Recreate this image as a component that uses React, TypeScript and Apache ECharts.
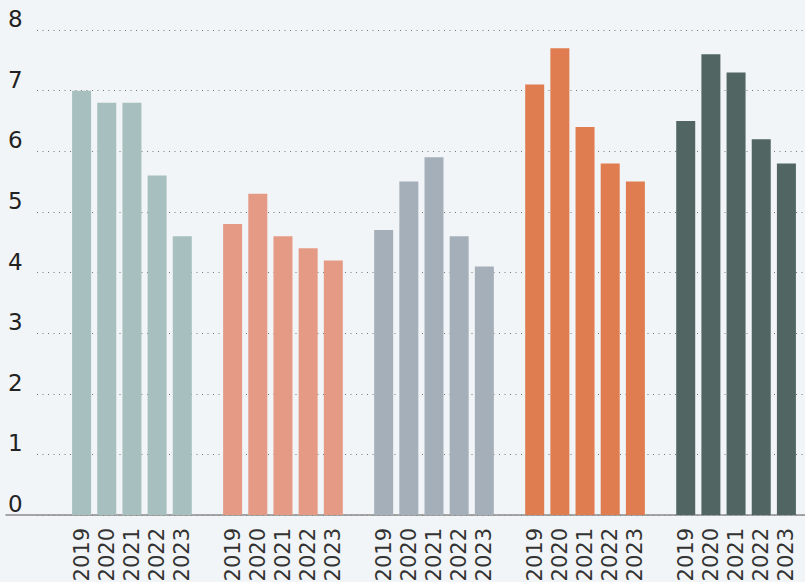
import React, { useEffect, useRef } from "react";
import * as echarts from "echarts";

const years = ["2019", "2020", "2021", "2022", "2023"];
const groupColors = ["#a7bfbf", "#e49a85", "#a5afb9", "#e07d50", "#516562"];
const group1 = [7.0, 6.8, 6.8, 5.6, 4.6];
const group2 = [4.8, 5.3, 4.6, 4.4, 4.2];
const group3 = [4.7, 5.5, 5.9, 4.6, 4.1];
const group4 = [7.1, 7.7, 6.4, 5.8, 5.5];
const group5 = [6.5, 7.6, 7.3, 6.2, 5.8];
const groups = [group1, group2, group3, group4, group5];
const yTicks = [0, 1, 2, 3, 4, 5, 6, 7, 8];

export default function App() {
  const ref = useRef<HTMLDivElement>(null);
  useEffect(() => {
    if (!ref.current) return;
    const chart = echarts.init(ref.current, undefined, { renderer: "svg" });
    const categories: string[] = [];
    const data: any[] = [];
    groups.forEach((g, gi) => {
      g.forEach((v, i) => {
        categories.push(years[i]);
        data.push({ value: v, itemStyle: { color: groupColors[gi] } });
      });
      if (gi < groups.length - 1) {
        categories.push("");
        data.push(null);
      }
    });
    const top = 30;
    const bottom = 67;
    const font = "DejaVu Sans";
    chart.setOption({
      animation: false,
      backgroundColor: "#f2f5f7",
      grid: [
        { left: 6, right: 0, top, bottom, outerBoundsMode: "none", containLabel: false },
        { left: 37, right: 0, top, bottom, outerBoundsMode: "none", containLabel: false },
        { left: 69, right: 6, top, bottom, outerBoundsMode: "none", containLabel: false },
      ],
      xAxis: [
        {
          gridIndex: 0,
          type: "value",
          min: 0,
          max: 1,
          axisLine: { show: true, lineStyle: { color: "#8a8a8a", width: 1.5 } },
          axisTick: { show: false },
          axisLabel: { show: false },
          splitLine: { show: false },
        },
        {
          gridIndex: 1,
          type: "value",
          min: 0,
          max: 1,
          show: false,
        },
        {
          gridIndex: 2,
          type: "category",
          data: categories,
          axisLine: { show: false },
          axisTick: { show: false },
          axisLabel: {
            interval: 0,
            rotate: 90,
            margin: 13,
            fontSize: 21,
            fontFamily: font,
            color: "#333",
          },
        },
      ],
      yAxis: [
        {
          gridIndex: 0,
          type: "value",
          min: yTicks[0],
          max: yTicks[yTicks.length - 1],
          interval: 1,
          axisLine: { show: false },
          axisTick: { show: false },
          splitLine: { show: false },
          axisLabel: {
            inside: true,
            margin: 2,
            fontSize: 23,
            fontFamily: font,
            color: "#222",
            verticalAlign: "bottom",
            lineHeight: 22,
          },
        },
        {
          gridIndex: 1,
          type: "value",
          min: yTicks[0],
          max: yTicks[yTicks.length - 1],
          interval: 1,
          axisLine: { show: false },
          axisTick: { show: false },
          axisLabel: { show: false },
          splitLine: {
            show: true,
            lineStyle: { color: "#555", width: 1, type: [1, 4.5], opacity: 0.8 },
          },
        },
        {
          gridIndex: 2,
          type: "value",
          min: yTicks[0],
          max: yTicks[yTicks.length - 1],
          show: false,
        },
      ],
      series: [
        {
          type: "bar",
          xAxisIndex: 2,
          yAxisIndex: 2,
          data,
          barWidth: 19,
        },
      ],
    });
    return () => chart.dispose();
  }, []);
  return <div ref={ref} style={{ width: 805, height: 582, position: "absolute", left: 0, top: 0 }} />;
}
